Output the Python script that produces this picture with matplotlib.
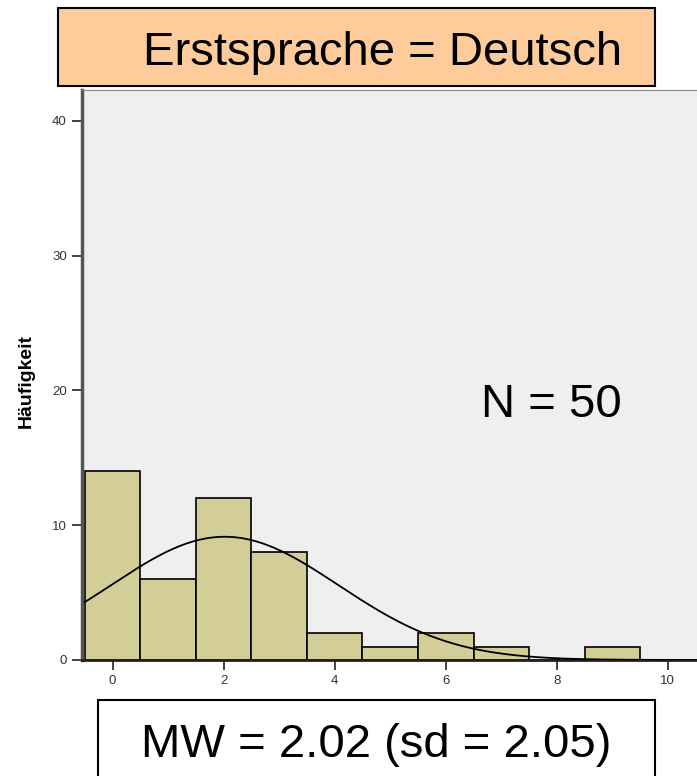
import numpy as np
import matplotlib.pyplot as plt
from matplotlib.patches import Rectangle

plt.rcParams['font.family'] = ['Liberation Sans', 'DejaVu Sans']

# Histogramm-Daten (Klassenmitte, Häufigkeit)
werte = [0, 1, 2, 3, 4, 5, 6, 7, 8, 9]
haeufigkeit = [14, 6, 12, 8, 2, 1, 2, 1, 0, 1]
mw = 2.02
sd = 2.05
titel = "Erstsprache = Deutsch"
n_text = "N = 50"

W, H = 697, 776
fig = plt.figure(figsize=(W / 100, H / 100), dpi=100)
ax = fig.add_axes([82 / W, 1 - 660 / H, 1 - 82 / W + 0.01, 570 / H])
ax.set_facecolor('#efefef')

ax.bar(werte, haeufigkeit, width=1.0, color='#d3ce98', edgecolor='black', linewidth=1.2, zorder=2)

# Normalverteilungskurve
n = sum(haeufigkeit)
x = np.linspace(-0.5, 10.6, 300)
y = n / (sd * np.sqrt(2 * np.pi)) * np.exp(-0.5 * ((x - mw) / sd) ** 2)
ax.plot(x, y, color='black', linewidth=1.3, zorder=3)

ax.set_xlim(-0.55, 10.65)
ax.set_ylim(0, 42.3)
ax.set_xticks([0, 2, 4, 6, 8, 10])
ax.set_yticks([0, 10, 20, 30, 40])
ax.tick_params(labelsize=9.5, colors='#333333', length=7, width=1.3, pad=4)
ax.spines['left'].set_color('#555555')
ax.spines['left'].set_linewidth(2.5)
ax.spines['bottom'].set_color('#222222')
ax.spines['bottom'].set_linewidth(2)
ax.spines['top'].set_color('#888888')
ax.spines['right'].set_visible(False)
ax.set_ylabel("Häufigkeit", fontsize=14, fontweight='bold')
ax.yaxis.set_label_coords(-47 / 622, 0.49)

fig.text(551 / W, 1 - 417 / H, n_text, fontsize=34, ha='center', va='baseline')

# Titelbox
fig.patches.append(Rectangle((58 / W, 1 - 86 / H), 597 / W, 78 / H, transform=fig.transFigure,
                             facecolor='#fdcc9a', edgecolor='black', linewidth=1.5))
fig.text(383 / W, 1 - 65 / H, titel, fontsize=34, ha='center', va='baseline')

# MW-Box
fig.patches.append(Rectangle((98 / W, -0.01), 557 / W, 76 / H + 0.01, transform=fig.transFigure,
                             facecolor='white', edgecolor='black', linewidth=1.5))
fig.text(376 / W, 1 - 757 / H, f"MW = {mw:.2f} (sd = {sd:.2f})", fontsize=34, ha='center', va='baseline')

fig.savefig('out.png', dpi=100)
